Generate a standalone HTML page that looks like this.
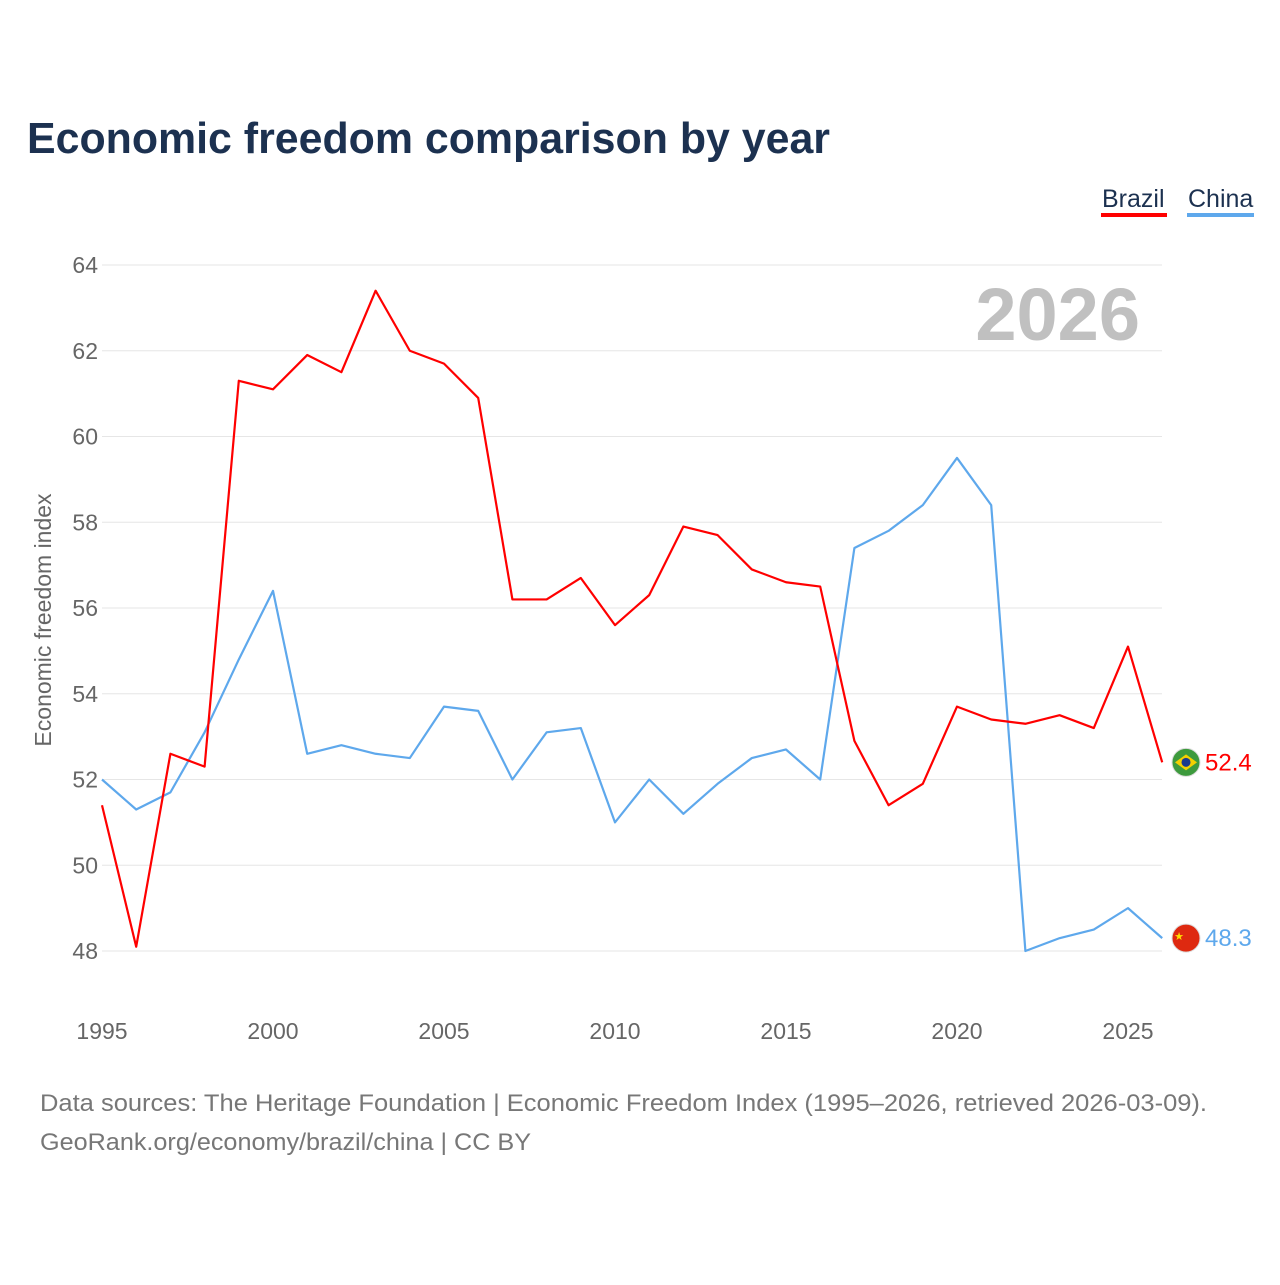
<!DOCTYPE html>
<html><head><meta charset="utf-8"><style>
body{margin:0;background:#fff;font-family:"Liberation Sans",sans-serif;}
</style></head><body>
<svg width="1280" height="1280" viewBox="0 0 1280 1280" xmlns="http://www.w3.org/2000/svg">
<rect width="1280" height="1280" fill="#fff"/>
<text x="27" y="153" font-size="44" font-weight="bold" fill="#1c3150" textLength="803" lengthAdjust="spacingAndGlyphs">Economic freedom comparison by year</text>
<g>
<text x="1102" y="207" font-size="25" fill="#1c3150">Brazil</text>
<rect x="1101" y="213" width="66" height="4" fill="#ff0000"/>
<text x="1188" y="207" font-size="25" fill="#1c3150">China</text>
<rect x="1187" y="213" width="67" height="4" fill="#5ea8ec"/>
</g>
<text x="1140" y="340" font-size="74" font-weight="bold" fill="#c0c0c0" text-anchor="end">2026</text>
<g id="grid"></g>
<g id="xt"></g>
<text transform="translate(51,620) rotate(-90)" font-size="23" fill="#666" text-anchor="middle">Economic freedom index</text>
<g id="lines"></g>
<text x="40" y="1111" font-size="24" fill="#777" textLength="1167" lengthAdjust="spacingAndGlyphs">Data sources: The Heritage Foundation | Economic Freedom Index (1995–2026, retrieved 2026-03-09).</text>
<text x="40" y="1150" font-size="24" fill="#777" textLength="491" lengthAdjust="spacingAndGlyphs">GeoRank.org/economy/brazil/china | CC BY</text>
</svg>
<script>
const years=[1995,1996,1997,1998,1999,2000,2001,2002,2003,2004,2005,2006,2007,2008,2009,2010,2011,2012,2013,2014,2015,2016,2017,2018,2019,2020,2021,2022,2023,2024,2025,2026];
const brazil=[51.4,48.1,52.6,52.3,61.3,61.1,61.9,61.5,63.4,62.0,61.7,60.9,56.2,56.2,56.7,55.6,56.3,57.9,57.7,56.9,56.6,56.5,52.9,51.4,51.9,53.7,53.4,53.3,53.5,53.2,55.1,52.4];
const china=[52.0,51.3,51.7,53.1,54.8,56.4,52.6,52.8,52.6,52.5,53.7,53.6,52.0,53.1,53.2,51.0,52.0,51.2,51.9,52.5,52.7,52.0,57.4,57.8,58.4,59.5,58.4,48.0,48.3,48.5,49.0,48.3];
const yTicks=[48,50,52,54,56,58,60,62,64];
const xTicks=[1995,2000,2005,2010,2015,2020,2025];
const NS="http://www.w3.org/2000/svg";
const xs=y=>102+(y-1995)*34.2;
const ys=v=>951-(v-48)*42.875;
function mk(t,a,p){const e=document.createElementNS(NS,t);for(const k in a)e.setAttribute(k,a[k]);p.appendChild(e);return e;}
const grid=document.getElementById('grid');
yTicks.forEach(v=>{
const l=mk('line',{x1:102,x2:1162,y1:ys(v),y2:ys(v),stroke:'#e6e6e6','stroke-width':1},grid);


const t=mk('text',{x:98,y:ys(v)+8,'font-size':23,fill:'#666','text-anchor':'end'},grid);
t.textContent=v;


});
const xt=document.getElementById('xt');
xTicks.forEach(v=>{
const t=mk('text',{x:xs(v),y:1039,'font-size':23,fill:'#666','text-anchor':'middle'},xt);
t.textContent=v;


});
const lg=document.getElementById('lines');
function series(d,c,name){
const p=mk('path',{d:d.map((v,i)=>(i?'L':'M')+xs(years[i])+','+ys(v)).join(''),fill:'none',stroke:c,'stroke-width':2.2,'stroke-linejoin':'round'},lg);


const last=d[d.length-1];
const cy=ys(last);
const m=mk('circle',{cx:1186,cy:cy,r:14,fill:name==='brazil'?'#3d9a3d':'#de2910',stroke:'#ddd','stroke-width':1},lg);


if(name==='brazil'){mk('path',{d:`M1175,${cy}L1186,${cy-8}L1197,${cy}L1186,${cy+8}Z`,fill:'#f4d000'},lg);mk('circle',{cx:1186,cy:cy,r:4.5,fill:'#1a3a8c'},lg);}
else{const s=mk('text',{x:1179,y:cy+2,'font-size':11,fill:'#ffde00','text-anchor':'middle'},lg);s.textContent='★';}
const t=mk('text',{x:1205,y:cy+8,'font-size':24,fill:c},lg);
t.textContent=last.toFixed(1);


}
series(china,'#5ea8ec','china');
series(brazil,'#ff0000','brazil');
</script>
</body></html>
